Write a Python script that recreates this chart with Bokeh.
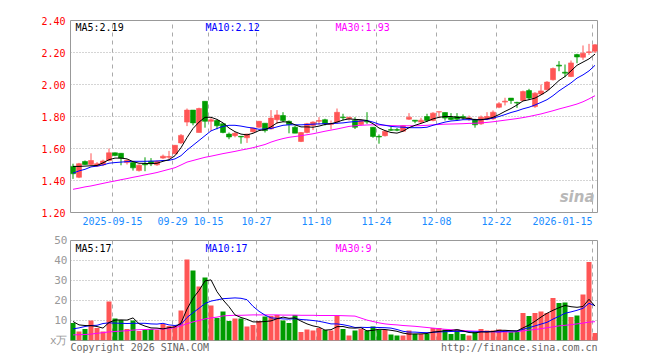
from bokeh.plotting import figure
from bokeh.layouts import column
from bokeh.models import FixedTicker, Label, ColumnDataSource, Range1d, NumeralTickFormatter
from bokeh.embed import file_html
from bokeh.resources import INLINE

code = "sz159690"
title_txt = "矿业ETF 一 日K线图"
stamp = "2026-01-15 09:42:42"

opens = [1.488, 1.420, 1.519, 1.500, 1.490, 1.498, 1.525, 1.573, 1.570, 1.512,
         1.512, 1.462, 1.505, 1.520, 1.498, 1.540, 1.545, 1.567, 1.635, 1.765,
         1.840, 1.700, 1.895, 1.770, 1.775, 1.755, 1.690, 1.680, 1.676, 1.667,
         1.705, 1.733, 1.758, 1.723, 1.780, 1.806, 1.770, 1.733, 1.644, 1.700,
         1.744, 1.770, 1.780, 1.750, 1.765, 1.796, 1.786, 1.775, 1.750, 1.770,
         1.733, 1.676, 1.680, 1.718, 1.718, 1.708, 1.783, 1.777, 1.765, 1.800,
         1.775, 1.828, 1.825, 1.796, 1.800, 1.800, 1.785, 1.780, 1.754, 1.783,
         1.785, 1.858, 1.890, 1.915, 1.888, 1.900, 1.962, 1.862, 1.940, 1.967,
         2.030, 2.121, 2.077, 2.050, 2.187, 2.170, 2.200, 2.208]
highs = [1.505, 1.510, 1.525, 1.570, 1.515, 1.530, 1.600, 1.575, 1.572, 1.532,
         1.512, 1.500, 1.545, 1.540, 1.525, 1.562, 1.585, 1.622, 1.690, 1.850,
         1.840, 1.855, 1.895, 1.790, 1.780, 1.755, 1.700, 1.705, 1.676, 1.692,
         1.730, 1.772, 1.758, 1.840, 1.840, 1.827, 1.775, 1.742, 1.703, 1.760,
         1.770, 1.796, 1.786, 1.775, 1.850, 1.817, 1.798, 1.796, 1.780, 1.827,
         1.733, 1.688, 1.712, 1.735, 1.728, 1.746, 1.821, 1.777, 1.792, 1.817,
         1.827, 1.830, 1.825, 1.821, 1.821, 1.813, 1.806, 1.786, 1.806, 1.827,
         1.838, 1.890, 1.917, 1.915, 1.892, 1.962, 1.973, 1.952, 2.000, 2.021,
         2.106, 2.146, 2.125, 2.150, 2.192, 2.244, 2.254, 2.252]
lows = [1.410, 1.415, 1.497, 1.495, 1.485, 1.490, 1.520, 1.552, 1.495, 1.500,
        1.462, 1.456, 1.458, 1.490, 1.492, 1.535, 1.535, 1.565, 1.628, 1.740,
        1.745, 1.700, 1.730, 1.710, 1.720, 1.695, 1.658, 1.670, 1.630, 1.635,
        1.700, 1.730, 1.700, 1.718, 1.755, 1.765, 1.695, 1.696, 1.640, 1.695,
        1.715, 1.748, 1.744, 1.720, 1.755, 1.775, 1.775, 1.722, 1.744, 1.754,
        1.667, 1.630, 1.675, 1.710, 1.708, 1.706, 1.779, 1.758, 1.758, 1.765,
        1.770, 1.790, 1.775, 1.777, 1.773, 1.779, 1.773, 1.730, 1.748, 1.777,
        1.779, 1.852, 1.869, 1.879, 1.854, 1.896, 1.904, 1.854, 1.935, 1.962,
        2.025, 2.083, 2.046, 2.046, 2.133, 2.154, 2.185, 2.196]
closes = [1.442, 1.505, 1.500, 1.525, 1.505, 1.522, 1.573, 1.556, 1.540, 1.526,
          1.479, 1.496, 1.498, 1.505, 1.520, 1.552, 1.550, 1.620, 1.682, 1.840,
          1.760, 1.850, 1.770, 1.780, 1.742, 1.700, 1.672, 1.695, 1.672, 1.690,
          1.728, 1.770, 1.712, 1.790, 1.810, 1.775, 1.750, 1.696, 1.700, 1.755,
          1.765, 1.775, 1.755, 1.756, 1.826, 1.792, 1.795, 1.733, 1.775, 1.766,
          1.675, 1.672, 1.708, 1.714, 1.714, 1.742, 1.796, 1.771, 1.777, 1.775,
          1.821, 1.830, 1.790, 1.782, 1.783, 1.792, 1.792, 1.748, 1.796, 1.800,
          1.827, 1.880, 1.896, 1.900, 1.884, 1.956, 1.915, 1.946, 1.960, 2.015,
          2.100, 2.115, 2.071, 2.135, 2.172, 2.196, 2.204, 2.248]
volumes = [8.8, 4.5, 5.7, 10.0, 6.2, 4.5, 19.5, 11.0, 10.3, 5.8,
           10.0, 4.7, 5.3, 5.7, 5.2, 8.3, 7.3, 7.5, 15.0, 40.5,
           35.0, 27.0, 31.5, 17.5, 11.2, 14.5, 9.7, 11.0, 11.0, 7.0,
           7.7, 9.8, 12.0, 12.2, 12.8, 10.0, 8.7, 12.8, 4.2, 5.5,
           5.0, 6.2, 5.3, 5.0, 12.8, 5.8, 2.5, 5.0, 5.8, 5.0,
           7.0, 5.3, 5.3, 3.0, 2.5, 2.5, 5.0, 3.3, 3.3, 3.3,
           6.3, 6.3, 5.5, 3.3, 5.5, 3.3, 2.5, 4.2, 5.8, 5.0,
           5.0, 5.5, 5.0, 4.2, 4.2, 13.7, 12.2, 13.8, 14.5, 13.8,
           21.2, 18.7, 19.0, 11.7, 12.5, 23.0, 39.2, 3.7]

ma5 = [1.488, 1.488, 1.490, 1.492, 1.494, 1.510, 1.530, 1.540, 1.540, 1.535,
       1.518, 1.508, 1.507, 1.505, 1.508, 1.520, 1.530, 1.555, 1.605, 1.668,
       1.725, 1.765, 1.795, 1.795, 1.782, 1.760, 1.728, 1.705, 1.690, 1.685,
       1.695, 1.712, 1.718, 1.735, 1.760, 1.767, 1.765, 1.748, 1.735, 1.735,
       1.733, 1.740, 1.750, 1.755, 1.765, 1.778, 1.785, 1.782, 1.780, 1.775,
       1.755, 1.728, 1.712, 1.700, 1.696, 1.708, 1.730, 1.745, 1.757, 1.770,
       1.785, 1.795, 1.800, 1.800, 1.795, 1.790, 1.788, 1.780, 1.780, 1.785,
       1.795, 1.812, 1.832, 1.850, 1.872, 1.897, 1.905, 1.915, 1.935, 1.958,
       1.990, 2.025, 2.050, 2.085, 2.120, 2.140, 2.160, 2.190]
ma10 = [1.446, 1.460, 1.470, 1.485, 1.490, 1.497, 1.508, 1.512, 1.515, 1.518,
        1.520, 1.520, 1.520, 1.521, 1.522, 1.525, 1.526, 1.535, 1.555, 1.590,
        1.620, 1.650, 1.680, 1.710, 1.725, 1.738, 1.745, 1.745, 1.740, 1.733,
        1.728, 1.720, 1.722, 1.725, 1.735, 1.745, 1.748, 1.748, 1.748, 1.750,
        1.752, 1.754, 1.755, 1.755, 1.758, 1.760, 1.765, 1.768, 1.772, 1.775,
        1.765, 1.752, 1.745, 1.738, 1.735, 1.733, 1.730, 1.730, 1.730, 1.733,
        1.745, 1.755, 1.765, 1.772, 1.775, 1.780, 1.780, 1.780, 1.780, 1.782,
        1.790, 1.800, 1.812, 1.825, 1.835, 1.848, 1.858, 1.872, 1.888, 1.905,
        1.930, 1.960, 1.985, 2.010, 2.040, 2.060, 2.085, 2.120]
ma30 = [1.345, 1.352, 1.360, 1.366, 1.374, 1.382, 1.390, 1.397, 1.405, 1.412,
        1.420, 1.427, 1.435, 1.442, 1.450, 1.460, 1.470, 1.480, 1.497, 1.515,
        1.525, 1.535, 1.545, 1.552, 1.560, 1.568, 1.575, 1.582, 1.590, 1.597,
        1.605, 1.615, 1.625, 1.640, 1.652, 1.662, 1.670, 1.675, 1.680, 1.686,
        1.692, 1.700, 1.708, 1.715, 1.722, 1.730, 1.738, 1.742, 1.745, 1.747,
        1.748, 1.747, 1.745, 1.743, 1.742, 1.742, 1.742, 1.742, 1.743, 1.745,
        1.748, 1.750, 1.752, 1.753, 1.754, 1.755, 1.757, 1.758, 1.760, 1.763,
        1.767, 1.772, 1.777, 1.782, 1.787, 1.793, 1.800, 1.808, 1.816, 1.826,
        1.836, 1.847, 1.857, 1.867, 1.878, 1.892, 1.910, 1.930]

vma5 = [9.5, 7.8, 7.5, 7.4, 7.0, 6.2, 9.0, 10.2, 10.3, 10.2,
        11.3, 8.4, 7.2, 6.3, 6.2, 5.8, 6.4, 6.8, 8.7, 15.7,
        21.1, 25.0, 29.8, 30.3, 24.4, 20.3, 16.9, 12.8, 11.5, 10.6,
        9.3, 9.3, 9.5, 9.8, 10.9, 11.7, 11.1, 11.3, 9.7, 8.3,
        7.3, 6.7, 5.2, 5.4, 6.9, 7.0, 6.3, 6.2, 6.4, 4.8,
        5.1, 5.6, 5.5, 5.1, 4.6, 3.7, 3.2, 3.3, 3.3, 3.5,
        4.2, 4.5, 4.9, 5.0, 5.4, 4.8, 4.0, 3.8, 4.3, 4.2,
        4.5, 5.1, 5.1, 4.9, 4.8, 6.3, 7.7, 9.6, 11.7, 13.6,
        15.1, 16.4, 17.5, 16.9, 16.6, 17.0, 20.6, 17.2]
vma10 = [5.8, 6.3, 7.0, 7.5, 7.6, 8.5, 8.8, 8.7, 8.6, 8.5,
         8.6, 8.6, 8.6, 8.3, 8.2, 8.6, 7.8, 7.5, 8.0, 11.5,
         13.9, 16.1, 18.5, 19.7, 20.3, 20.9, 21.1, 21.3, 21.1, 20.4,
         17.1, 14.6, 12.7, 11.3, 11.1, 10.8, 10.7, 10.9, 10.5, 10.3,
         10.0, 9.6, 9.0, 8.3, 8.3, 7.9, 7.3, 6.5, 6.6, 6.5,
         6.6, 6.5, 6.4, 6.2, 5.5, 4.6, 4.2, 4.2, 4.0, 3.9,
         4.1, 4.3, 4.4, 4.5, 4.6, 4.5, 4.4, 4.3, 4.4, 4.5,
         4.4, 4.3, 4.6, 4.7, 4.7, 5.6, 6.4, 7.3, 8.2, 9.1,
         10.7, 12.1, 13.6, 14.3, 15.1, 16.1, 18.6, 17.4]
vma30 = [2.8, 2.9, 3.0, 3.2, 3.6, 3.9, 4.3, 4.5, 4.7, 4.9,
         5.2, 5.4, 5.5, 5.6, 5.7, 5.8, 5.9, 6.5, 7.3, 8.4,
         9.3, 10.0, 10.8, 11.3, 11.7, 12.3, 12.5, 12.6, 12.6, 12.7,
         12.8, 12.8, 12.8, 12.8, 12.8, 12.7, 12.7, 12.7, 12.6, 12.6,
         12.6, 12.5, 12.5, 12.5, 12.5, 12.4, 12.3, 12.2, 11.2, 10.2,
         9.5, 8.8, 8.3, 8.0, 7.8, 7.5, 7.3, 7.1, 6.8, 6.5,
         6.2, 5.9, 5.6, 5.4, 5.2, 5.0, 4.8, 4.7, 4.6, 4.5,
         4.4, 4.3, 4.3, 4.2, 4.4, 4.8, 5.2, 5.5, 5.9, 6.4,
         6.8, 7.3, 7.6, 7.9, 8.3, 8.7, 9.2, 9.4]

tick_idx = [7, 17, 23, 31, 41, 51, 61, 71, 87]
tick_labels = ["2025-09-15", "09-29", "10-15", "10-27", "11-10",
               "11-24", "12-08", "12-22", "2026-01-15"]
price_ticks = [1.2, 1.4, 1.6, 1.8, 2.0, 2.2, 2.4]
vol_ticks = [0, 10, 20, 30, 40, 50]
vol_unit = "x万"
copyright_txt = "Copyright 2026 SINA.COM"
url_txt = "http://finance.sina.com.cn"

# ---- styles ----
RED = "#ff5555"
GREEN = "#009c00"
MONO = "DejaVu Sans Mono"
GRID = "#aaaaaa"
SLOT = 6.0          # pixels per trading day
FW = 527            # frame width
CHAR = 6.02         # mono glyph advance at 10px
n = len(closes)

xs = [i + 5 / 12 for i in range(n)]
cols = [RED if c >= o else GREEN for o, c in zip(opens, closes)]
src = ColumnDataSource(dict(
    x=xs, o=opens, h=highs, l=lows, c=closes, v=volumes,
    top=[max(o, c) for o, c in zip(opens, closes)],
    bot=[min(o, c) for o, c in zip(opens, closes)],
    col=cols, ma5=ma5, ma10=ma10, ma30=ma30,
    vma5=vma5, vma10=vma10, vma30=vma30))

xr = Range1d(0, FW / SLOT)


def style(p):
    p.background_fill_color = "white"
    p.border_fill_color = "white"
    p.outline_line_color = "#999999"
    p.outline_line_width = 1
    p.xgrid.ticker = FixedTicker(ticks=tick_idx)
    p.xgrid.grid_line_color = GRID
    p.xgrid.grid_line_dash = "4 4"
    p.ygrid.grid_line_color = GRID
    p.ygrid.grid_line_dash = "1 2"
    for ax in p.axis:
        ax.axis_line_color = None
        ax.major_tick_line_color = None
        ax.minor_tick_line_color = None
        ax.major_tick_out = 0
        ax.major_tick_in = 0
        ax.minor_tick_out = 0
        ax.minor_tick_in = 0
        ax.major_label_text_font = MONO
        ax.major_label_text_font_size = "10px"


p1 = figure(frame_width=FW, frame_height=192, x_range=xr, y_range=Range1d(1.2, 2.4),
            output_backend="svg", toolbar_location=None,
            min_border_left=70, min_border_right=63, min_border_top=20, min_border_bottom=16)
style(p1)
p1.ygrid.ticker = FixedTicker(ticks=price_ticks[1:-1])
p1.yaxis.ticker = FixedTicker(ticks=price_ticks)
p1.yaxis.formatter = NumeralTickFormatter(format="0.00")
p1.yaxis.major_label_text_color = "#ff0000"
p1.yaxis.major_label_standoff = 5
label_pos = tick_idx[:-1] + [tick_idx[-1] - 5]
p1.xaxis.ticker = FixedTicker(ticks=label_pos)
p1.xaxis.major_label_overrides = {pos: lab for pos, lab in zip(label_pos, tick_labels)}
p1.xaxis.major_label_text_color = "#1a8cff"
p1.xaxis.major_label_standoff = 4

p1.segment(x0="x", y0="l", x1="x", y1="h", color="col", line_width=1, source=src)
p1.vbar(x="x", width=5 / 6, top="top", bottom="bot", fill_color="col", line_color="col",
        line_width=0.6, source=src)
p1.line("x", "ma30", color="#ff00ff", line_width=1, source=src)
p1.line("x", "ma10", color="#0000ff", line_width=1, source=src)
p1.line("x", "ma5", color="#000000", line_width=1, source=src)


def lab(p, text, x, y, color="#000000", size="10px", align="left", baseline="top",
        font=MONO, style_="normal"):
    p.add_layout(Label(x=x, y=y, x_units="screen", y_units="screen", text=text,
                       text_color=color, text_font_size=size, text_align=align,
                       text_baseline=baseline, text_font=font, text_font_style=style_))


lab(p1, f"MA5:{ma5[-1]:.2f}", 5, 191)
lab(p1, f"MA10:{ma10[-1]:.2f}", 135, 191, color="#0000ff")
lab(p1, f"MA30:{ma30[-1]:.2f}", 265, 191, color="#ff00ff")
lab(p1, code, 0, 199, baseline="middle")
lab(p1, title_txt, 80, 200, size="13px", baseline="middle", font="Noto Sans CJK SC")
lab(p1, stamp, FW, 199, align="right", baseline="middle")
lab(p1, "sina", FW - 3, 7, color="#b8b8b8", size="15px", align="right", baseline="bottom",
    font="DejaVu Sans", style_="bold italic")

p2 = figure(frame_width=FW, frame_height=100, x_range=xr, y_range=Range1d(0, 50),
            output_backend="svg", toolbar_location=None,
            min_border_left=70, min_border_right=63, min_border_top=12, min_border_bottom=20)
style(p2)
p2.ygrid.ticker = FixedTicker(ticks=vol_ticks[1:-1])
p2.yaxis.ticker = FixedTicker(ticks=vol_ticks)
p2.yaxis.major_label_overrides = {0: vol_unit}
p2.yaxis.major_label_text_color = "#999999"
p2.yaxis.major_label_text_font_size = "11px"
p2.yaxis.major_label_standoff = 3

# footer texts: copyright flush with the frame's left edge, url flush with its right edge
foot_pos = [len(copyright_txt) * CHAR / 2 / SLOT, (FW - len(url_txt) * CHAR / 2) / SLOT]
p2.xaxis.ticker = FixedTicker(ticks=foot_pos)
p2.xaxis.major_label_overrides = {foot_pos[0]: copyright_txt, foot_pos[1]: url_txt}
p2.xaxis.major_label_text_color = "#666666"
p2.xaxis.major_label_standoff = 1

p2.vbar(x="x", width=5 / 6, top="v", bottom=0, fill_color="col", line_color=None, source=src)
p2.line("x", "vma30", color="#ff00ff", line_width=1, source=src)
p2.line("x", "vma10", color="#0000ff", line_width=1, source=src)
p2.line("x", "vma5", color="#000000", line_width=1, source=src)

lab(p2, f"MA5:{vma5[-1]:.0f}", 5, 98)
lab(p2, f"MA10:{vma10[-1]:.0f}", 135, 98, color="#0000ff")
lab(p2, f"MA30:{vma30[-1]:.0f}", 265, 98, color="#ff00ff")

layout = column(p1, p2, spacing=0)
open("out.html", "w").write(file_html(layout, INLINE))
